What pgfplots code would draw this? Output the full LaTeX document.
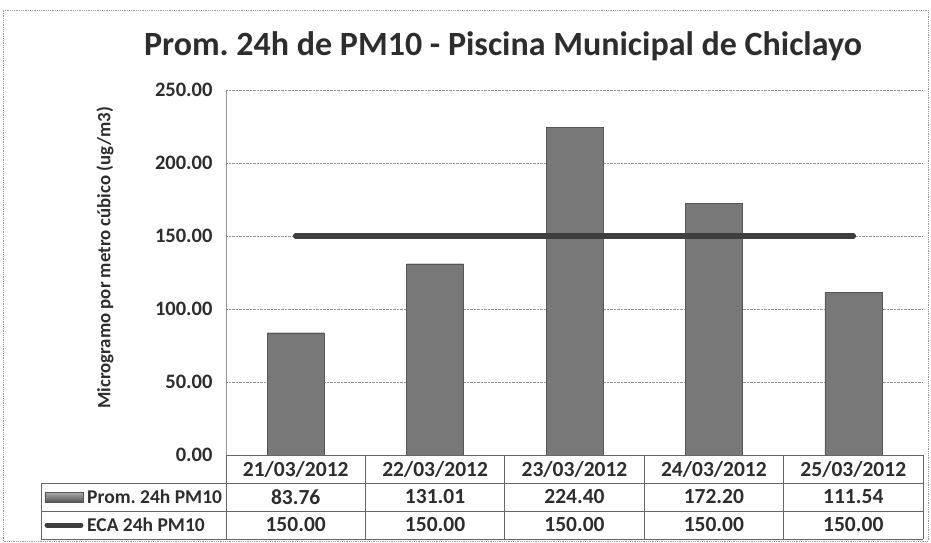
\documentclass[border=0pt]{standalone}
\usepackage{pgfplots}
\pgfplotsset{compat=1.18}
\usepackage{fontspec}
\setmainfont{Carlito}
\frenchspacing

\definecolor{BarFill} {RGB}{120,120,120}
\definecolor{BarDark} {RGB}{ 85, 85, 85}
\definecolor{BarLight}{RGB}{175,175,175}
\definecolor{EcaLine} {RGB}{ 62, 62, 62}
\definecolor{GridGray}{RGB}{150,150,150}
\definecolor{TextGray}{RGB}{ 45, 45, 45}

% one pt here is one pixel of the 931x543 reference
\begin{document}
\begin{tikzpicture}
\path[use as bounding box] (-226pt,-88pt) rectangle (705pt,455pt);
\draw[GridGray, densely dotted, line width=0.8pt] (-223pt,-86pt) rectangle (702pt,445pt);

\begin{axis}[
    at={(0pt,0pt)},
    anchor=south west,
    scale only axis,
    width=697pt,
    height=365pt,
    xmin=0.5, xmax=5.5,
    ymin=0, ymax=250,
    xtick=\empty,
    ytick={0,50,100,150,200,250},
    axis line style={draw=none},
    tick style={draw=none},
    ymajorgrids,
    major grid style={GridGray, densely dotted, line width=0.8pt},
    /pgf/number format/assume math mode=true,
    yticklabel style={
        font=\fontsize{20.5}{22}\selectfont\bfseries,
        text=TextGray,
        xshift=-10pt,
        /pgf/number format/.cd, fixed, fixed zerofill, precision=2,
    },
    ylabel={Microgramo por metro cúbico (ug/m3)},
    ylabel style={
        font=\fontsize{18.8}{20}\selectfont\bfseries,
        text=TextGray,
        at={(axis description cs:-0.1736,0.54)},
        anchor=center,
    },
    clip=false,
]

\addplot[
    ybar,
    bar width=57pt,
    draw=BarDark,
    fill=BarFill,
] coordinates {
    (1,83.76)
    (2,131.01)
    (3,224.40)
    (4,172.20)
    (5,111.54)
};

\addplot[
    EcaLine,
    line width=5.5pt,
    line cap=round,
] coordinates {
    (1,150)
    (2,150)
    (3,150)
    (4,150)
    (5,150)
};

\draw[GridGray, line width=0.8pt] (rel axis cs:0,0) -- (rel axis cs:0,1);

\end{axis}

% title
\node[anchor=base, font=\fontsize{34}{36}\selectfont\bfseries, text=TextGray]
    at (277pt,399pt) {Prom. 24h de PM10 - Piscina Municipal de Chiclayo};

% data table under the axis
\begin{scope}[draw=black!60, line width=0.8pt]
    \draw (0pt,0pt) -- (697pt,0pt);
    \foreach \y in {-28,-56,-84} \draw (-185pt,\y pt) -- (697pt,\y pt);
    \draw (-185pt,-28pt) -- (-185pt,-84pt);
    \foreach \x in {0,139.4,278.8,418.2,557.6,697} \draw (\x pt,0pt) -- (\x pt,-84pt);
\end{scope}

\begin{scope}[font=\fontsize{21.5}{23}\selectfont\bfseries, text=TextGray]
    \foreach \d [count=\i] in {21/03/2012,22/03/2012,23/03/2012,24/03/2012,25/03/2012}
        \node at ({(\i-0.5)*139.4pt},-14pt) {\d};
    \foreach \v [count=\i] in {83.76,131.01,224.40,172.20,111.54}
        \node at ({(\i-0.5)*139.4pt},-42pt) {\v};
    \foreach \i in {1,...,5}
        \node at ({(\i-0.5)*139.4pt},-70pt) {150.00};
\end{scope}
\begin{scope}[font=\fontsize{19.5}{21}\selectfont\bfseries, text=TextGray]
    \node[anchor=west, inner sep=0pt] at (-139pt,-42pt) {Prom. 24h PM10};
    \node[anchor=west, inner sep=0pt] at (-139pt,-70pt) {ECA 24h PM10};
\end{scope}

% legend keys in the table
\shade[top color=BarLight, bottom color=BarDark, draw=BarDark] (-181pt,-47pt) rectangle (-143pt,-37pt);
\draw[EcaLine, line width=5pt, line cap=round] (-179pt,-70pt) -- (-145pt,-70pt);

\end{tikzpicture}
\end{document}
